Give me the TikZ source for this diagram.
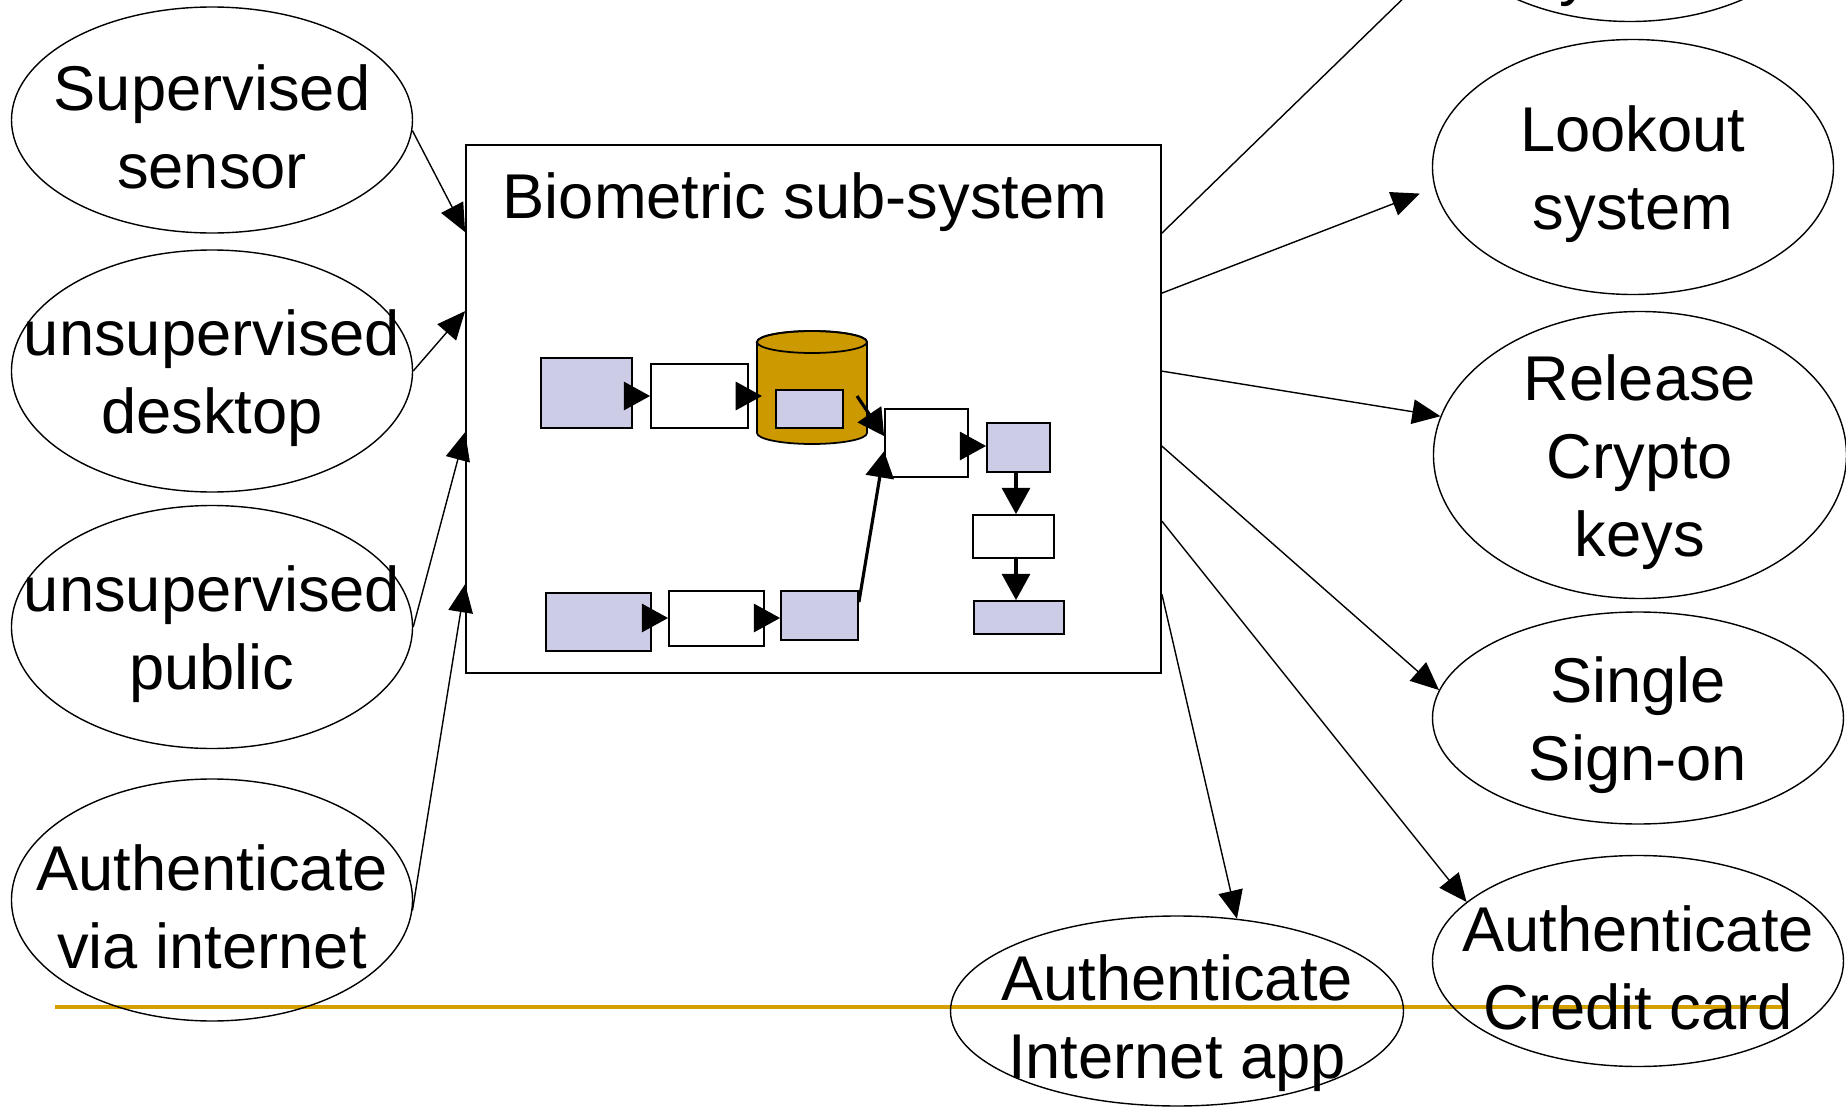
\documentclass[tikz,border=0pt]{standalone}
\usepackage{fontspec}
\setmainfont{Liberation Sans}
\usetikzlibrary{arrows.meta, shapes.geometric}

\definecolor{lavender}{RGB}{204,204,230}
\definecolor{dbgold}{RGB}{204,153,0}
\definecolor{rulegold}{RGB}{212,160,0}

\begin{document}
\begin{tikzpicture}[
		> = {Triangle[length=8pt, width=7pt]}, % arrow head style
		line width = 0.4pt % line style
		]
		
		\tikzstyle{blob}=[draw, ellipse, inner sep=0pt, minimum width=4.01cm]
		\tikzstyle{words}=[align=center, font=\fontsize{18}{22.2}\selectfont]
		\tikzstyle{tag}=[words, yshift=-2pt] % text inside an ellipse
		\tikzstyle{lav}=[draw, fill=lavender, inner sep=0pt, line width=0.5pt]
		\tikzstyle{blank}=[draw, fill=white, inner sep=0pt, line width=0.5pt]
		\tikzstyle{flow}=[->, >={Triangle[length=7.5pt, width=8pt]}, line width=0.9pt]
		
		\useasboundingbox (0,0) rectangle (18.46,11.10);
		\clip (0,0) rectangle (18.46,11.10);
		
		% gold rule under everything
		\draw[rulegold, line width=1.1pt] (0.55,1.03) -- (17.84,1.03);
		
		% sources on the left
		\node[blob, minimum height=2.26cm, label={[tag]center:Supervised\\sensor}] (sensor) at (2.12,9.90) {};
		\node[blob, minimum height=2.42cm, label={[tag]center:unsupervised\\desktop}] (desktop) at (2.12,7.39) {};
		\node[blob, minimum height=2.43cm, label={[tag]center:unsupervised\\public}] (public) at (2.12,4.83) {};
		\node[blob, minimum height=2.42cm, label={[tag]center:Authenticate\\via internet}] (internet) at (2.12,2.10) {};
		
		% the sub-system box
		\node[draw, minimum width=6.95cm, minimum height=5.28cm, line width=0.5pt] (bio) at (8.135,7.01) {};
		\node[words, anchor=base] (title) at (8.05,8.92) {Biometric sub-system};
		
		% uses on the right
		\node[blob, minimum height=2.55cm] (access) at (16.30,12.16) {};
		\node[words, anchor=base] (access-txt) at (16.28,11.17) {system};
		\node[blob, minimum height=2.55cm, label={[tag]center:Lookout\\system}] (lookout) at (16.33,9.43) {};
		\node[blob, minimum width=4.13cm, minimum height=2.87cm, label={[tag]center:Release\\Crypto\\keys}] (crypto) at (16.40,6.55) {};
		\node[blob, minimum width=4.11cm, minimum height=2.12cm, label={[tag]center:Single\\Sign-on}] (sso) at (16.38,3.92) {};
		\node[blob, minimum width=4.11cm, minimum height=2.11cm, label={[tag]center:Authenticate\\Credit card}] (card) at (16.38,1.49) {};
		\node[blob, minimum width=4.53cm, minimum height=1.90cm, label={[tag, yshift=-1.5pt]center:Authenticate\\Internet app}] (webapp) at (11.77,0.99) {};
		
		\draw[->] (sensor.-3) -- ([yshift=-0.88cm]bio.north west);
		\draw[->] (desktop.east) -- ([yshift=-1.67cm]bio.north west);
		\draw[->] (public.east) -- ([yshift=-2.88cm]bio.north west);
		\draw[->] (internet.-3) -- ([yshift=-4.40cm]bio.north west);
		
		\draw[->] ([yshift=-0.89cm]bio.north east) -- (access.198);
		\draw[->, shorten >=4.5pt] ([yshift=-1.49cm]bio.north east) -- (lookout.186);
		\draw[->] ([yshift=-2.27cm]bio.north east) -- (crypto.169);
		\draw[->] ([yshift=-3.02cm]bio.north east) -- (sso.172);
		\draw[->] ([yshift=-3.77cm]bio.north east) -- (card.161);
		\draw[->] ([yshift=-4.50cm]bio.north east) -- (webapp.57);
		
		% inner flow: enrolment row
		\node[lav, minimum width=0.91cm, minimum height=0.70cm] (a1) at (5.865,7.17) {};
		\node[blank, minimum width=0.97cm, minimum height=0.64cm] (w1) at (6.995,7.14) {};
		\draw[fill=dbgold, line width=0.5pt] (7.57,7.68) -- (7.57,6.77)
			arc[start angle=180, end angle=360, x radius=0.55, y radius=0.11]
			-- (8.67,7.68)
			arc[start angle=0, end angle=180, x radius=0.55, y radius=0.11] -- cycle;
		\draw[line width=0.5pt] (8.12,7.68) ellipse[x radius=0.55, y radius=0.11];
		\node[lav, minimum width=0.67cm, minimum height=0.38cm] (tmpl) at (8.095,7.01) {};
		\coordinate (db-in) at (7.62,7.14);
		\coordinate (db-out) at (8.57,7.14);
		
		% matcher and decision chain
		\node[blank, minimum width=0.83cm, minimum height=0.68cm] (w2) at (9.265,6.67) {};
		\node[lav, minimum width=0.63cm, minimum height=0.49cm] (l2) at (10.185,6.625) {};
		\node[blank, minimum width=0.81cm, minimum height=0.43cm] (w3) at (10.135,5.735) {};
		\node[lav, minimum width=0.90cm, minimum height=0.33cm] (l3) at (10.19,4.925) {};
		
		% inner flow: live row
		\node[lav, minimum width=1.05cm, minimum height=0.58cm] (b1) at (5.985,4.88) {};
		\node[blank, minimum width=0.95cm, minimum height=0.55cm] (w4) at (7.165,4.915) {};
		\node[lav, minimum width=0.77cm, minimum height=0.49cm] (b3) at (8.195,4.945) {};
		
		\draw[flow] (a1.east |- w1.west) -- (w1.west);
		\draw[flow] (w1.east) -- (db-in);
		\draw[flow] (db-out) -- ([yshift=-0.28cm]w2.north west);
		\draw[flow] ([yshift=-0.03cm]w2.east) -- ([yshift=-0.03cm]w2.east -| l2.west);
		\draw[flow] (l2.south -| 10.16,0) -- (w3.north -| 10.16,0);
		\draw[flow] (w3.south -| 10.16,0) -- (l3.north -| 10.16,0);
		\draw[flow] (b1.east |- 0,4.92) -- (w4.west |- 0,4.92);
		\draw[flow] (w4.east |- 0,4.92) -- (b3.west |- 0,4.92);
		\draw[flow] ([yshift=-0.12cm]b3.north east) -- ([yshift=-0.43cm]w2.north west);
		\end{tikzpicture}
\end{document}
